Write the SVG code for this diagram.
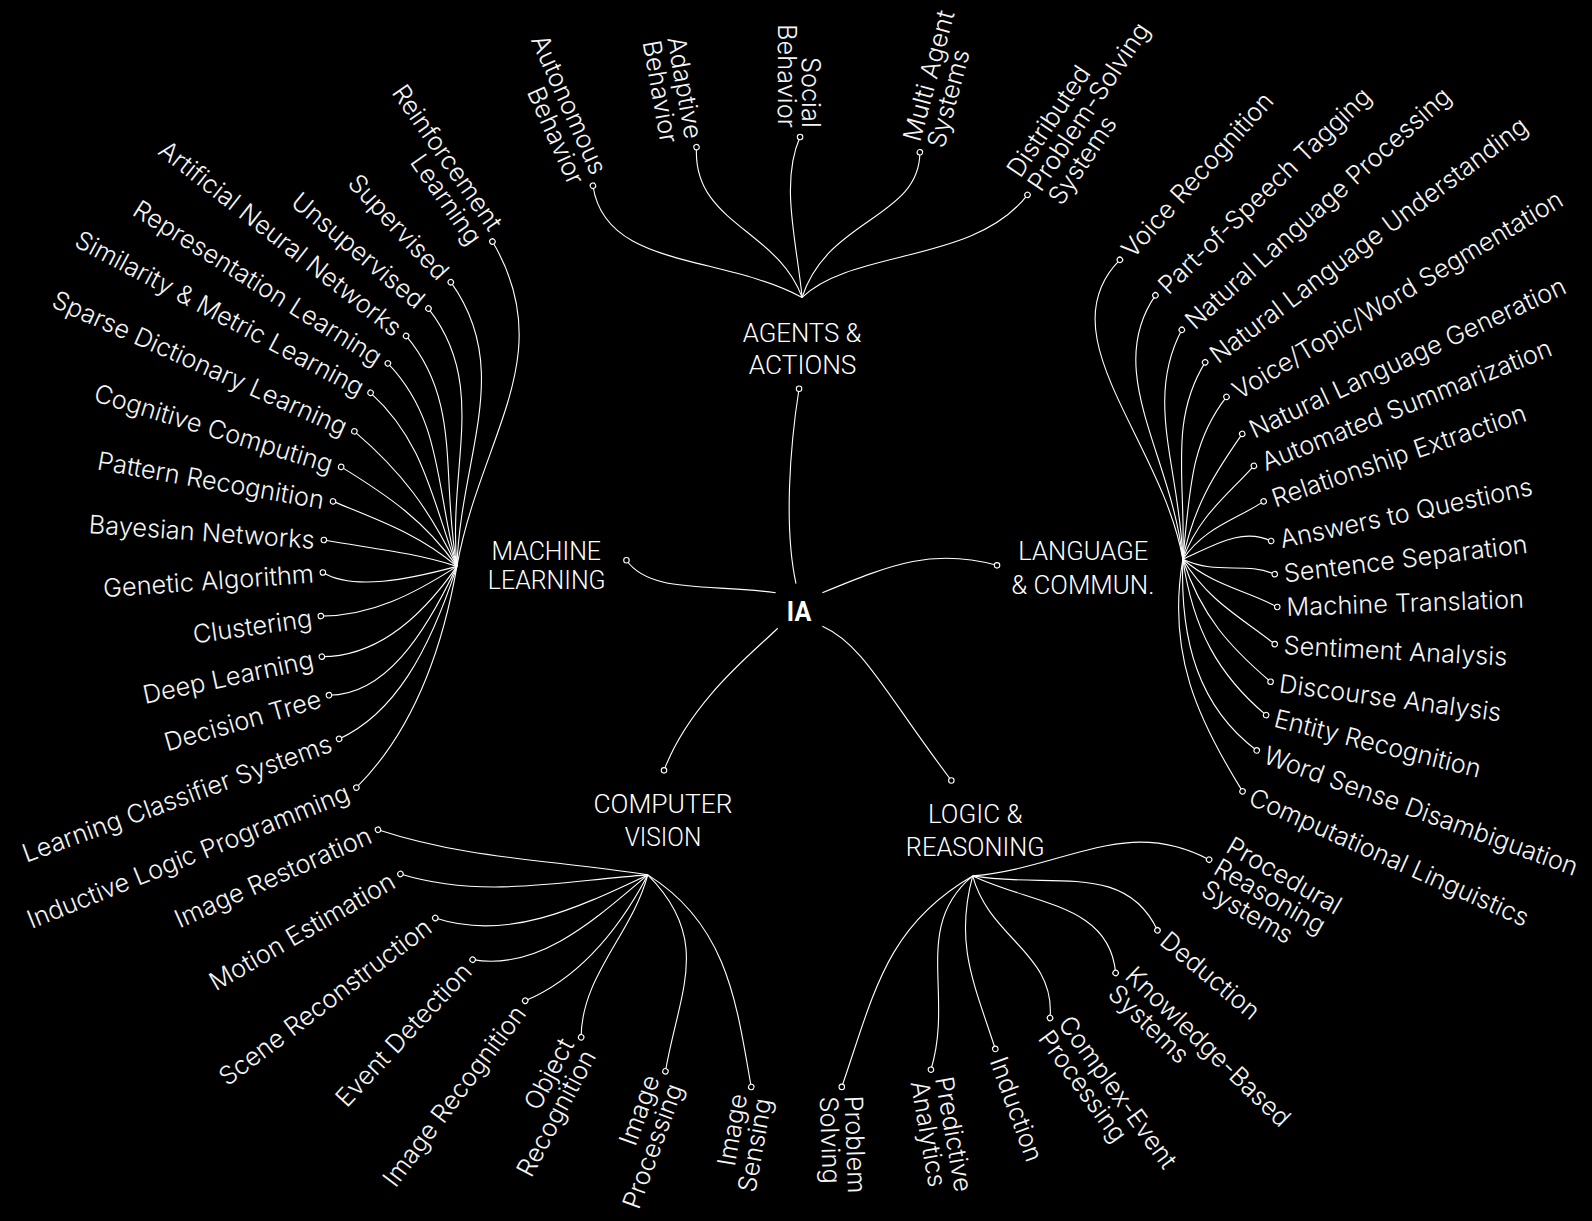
<svg xmlns="http://www.w3.org/2000/svg" width="1592" height="1221" viewBox="0 0 1592 1221">
<style>
.ln{fill:none;stroke:#fff;stroke-width:1.1}
.dot{fill:#000;stroke:#fff;stroke-width:1.1}
.lf{font-family:Inter,'Noto Sans','Liberation Sans',sans-serif;font-size:25px;font-weight:300;fill:#f4f4f4;dominant-baseline:central}
.e{text-anchor:end}
.s{text-anchor:start}
.cat{font-family:Roboto,'Liberation Sans',sans-serif;font-size:26px;font-weight:300;fill:#fff;text-anchor:middle}
.ia{font-family:Roboto,'Liberation Sans',sans-serif;font-size:27px;font-weight:700;fill:#fff;text-anchor:middle}
</style>
<rect width="1592" height="1221" fill="#000"/>
<g transform="scale(1.01531 1.01496)">
<g id="connectors">
<path class="ln" d="M784,575 C772,520 778,440 787,383"/>
<path class="ln" d="M764,584 C700,575 640,585 617,552"/>
<path class="ln" d="M810,584 C880,555 920,540 982,557"/>
<path class="ln" d="M766,619 C745,640 680,690 654,759"/>
<path class="ln" d="M810,617 C850,635 870,680 937,769"/>
<path class="ln" d="M584,183 C596,265 710,250 790,293"/>
<path class="ln" d="M686,145 C682,220 765,225 790,293"/>
<path class="ln" d="M788,135 C768,180 785,240 790,293"/>
<path class="ln" d="M906,150 C906,215 815,215 790,293"/>
<path class="ln" d="M1012,192 C960,260 840,245 790,293"/>
<path class="ln" d="M485,238 C552,351 473,430 450,558"/>
<path class="ln" d="M444,278 C506,364 454,448 450,558"/>
<path class="ln" d="M422,304 C481,379 441,458 450,558"/>
<path class="ln" d="M400,331 C455,396 434,469 450,558"/>
<path class="ln" d="M382,358 C436,414 429,481 450,558"/>
<path class="ln" d="M365,387 C417,434 425,490 450,558"/>
<path class="ln" d="M349,425 C396,465 423,502 450,558"/>
<path class="ln" d="M336,460 C383,489 418,513 450,558"/>
<path class="ln" d="M328,494 C374,513 412,526 450,558"/>
<path class="ln" d="M319,532 C363,540 407,544 450,558"/>
<path class="ln" d="M318,564 C348,582 402,571 450,558"/>
<path class="ln" d="M316,607 C366,607 408,585 450,558"/>
<path class="ln" d="M317,647 C372,647 416,607 450,558"/>
<path class="ln" d="M324,685 C379,685 418,626 450,558"/>
<path class="ln" d="M334,728 C388,703 422,644 450,558"/>
<path class="ln" d="M351,776 C400,727 433,656 450,558"/>
<path class="ln" d="M1103,256 C1029,330 1144,433 1165,551"/>
<path class="ln" d="M1138,291 C1086,366 1154,448 1165,551"/>
<path class="ln" d="M1164,325 C1127,395 1162,461 1165,551"/>
<path class="ln" d="M1187,357 C1151,415 1168,473 1165,551"/>
<path class="ln" d="M1208,391 C1172,437 1172,485 1165,551"/>
<path class="ln" d="M1223.5,427.5 C1196,467 1176,498 1165,551"/>
<path class="ln" d="M1235,459 C1208,489 1181,508 1165,551"/>
<path class="ln" d="M1244.6,494 C1216,513 1187,519 1165,551"/>
<path class="ln" d="M1252,533 C1224,520 1198,536 1165,551"/>
<path class="ln" d="M1255.5,565.7 C1226,553 1199,567 1165,551"/>
<path class="ln" d="M1258,598 C1226,581 1197,578 1165,551"/>
<path class="ln" d="M1255.5,634.6 C1222,608 1191,593 1165,551"/>
<path class="ln" d="M1251.4,671.7 C1212,638 1183,607 1165,551"/>
<path class="ln" d="M1247,704.6 C1200,665 1175,620 1165,551"/>
<path class="ln" d="M1237.8,739.4 C1181,697 1162,632 1165,551"/>
<path class="ln" d="M1223.8,779.7 C1180,709 1149,644 1165,551"/>
<path class="ln" d="M372.3,817.5 C462,847 545,847 638,862"/>
<path class="ln" d="M394.4,861.1 C476,886 553,868 638,862"/>
<path class="ln" d="M428.7,904.5 C500,928 570,894 638,862"/>
<path class="ln" d="M465.5,945.5 C531,957 587,905 638,862"/>
<path class="ln" d="M517.3,986 C572.5,962.5 610,915 638,862"/>
<path class="ln" d="M572.4,1022 C572.4,962 622.5,920 638,862"/>
<path class="ln" d="M655.4,1055.5 C669,977 702,926 638,862"/>
<path class="ln" d="M739.9,1071 C725.6,990 717,911 638,862"/>
<path class="ln" d="M1190.9,847 C1108.8,803.4 1050.6,854.9 958,863"/>
<path class="ln" d="M1140,916.6 C1107.9,847.7 1032.9,876.2 958,863"/>
<path class="ln" d="M1098.8,958.6 C1092.9,890.9 1019.6,891.8 958,863"/>
<path class="ln" d="M1034.2,1003 C1039.8,939.3 974.6,924.8 958,863"/>
<path class="ln" d="M980.3,1033.5 C959,968 940,930 958,863"/>
<path class="ln" d="M916.9,1053.9 C939.7,979.3 898,913 958,863"/>
<path class="ln" d="M829.1,1070.9 C861,978 873,912 958,863"/>
</g>

<g id="n-ia"><text class="ia" x="787" y="612" textLength="24" lengthAdjust="spacingAndGlyphs">IA</text></g>
<g id="n-agents"><circle class="dot" cx="787" cy="383" r="2.7"/><text class="cat" x="790" y="336.5" textLength="117" lengthAdjust="spacingAndGlyphs">AGENTS &amp;</text><text class="cat" x="790.5" y="368.7" textLength="106" lengthAdjust="spacingAndGlyphs">ACTIONS</text></g>
<g id="n-ml"><circle class="dot" cx="617" cy="552" r="2.7"/><text class="cat" x="538" y="552" textLength="108" lengthAdjust="spacingAndGlyphs">MACHINE</text><text class="cat" x="538.5" y="580" textLength="116" lengthAdjust="spacingAndGlyphs">LEARNING</text></g>
<g id="n-lang"><circle class="dot" cx="982" cy="557" r="2.7"/><text class="cat" x="1067" y="551.6" textLength="128" lengthAdjust="spacingAndGlyphs">LANGUAGE</text><text class="cat" x="1066.5" y="585" textLength="141" lengthAdjust="spacingAndGlyphs">&amp; COMMUN.</text></g>
<g id="n-cv"><circle class="dot" cx="654" cy="759" r="2.7"/><text class="cat" x="653" y="801" textLength="137" lengthAdjust="spacingAndGlyphs">COMPUTER</text><text class="cat" x="653" y="834" textLength="75.5" lengthAdjust="spacingAndGlyphs">VISION</text></g>
<g id="n-logic"><circle class="dot" cx="937" cy="769" r="2.7"/><text class="cat" x="960.5" y="811" textLength="93" lengthAdjust="spacingAndGlyphs">LOGIC &amp;</text><text class="cat" x="960.5" y="843" textLength="136.6" lengthAdjust="spacingAndGlyphs">REASONING</text></g>

<g id="n-autonomous" transform="translate(584 183) rotate(66)"><circle class="dot" r="2.7"/><text class="lf e"><tspan x="-9" y="-12.25">Autonomous</tspan><tspan x="-9" y="12.25">Behavior</tspan></text></g>
<g id="n-adaptive" transform="translate(686 145) rotate(80)"><circle class="dot" r="2.7"/><text class="lf e"><tspan x="-9" y="0">Adaptive</tspan><tspan x="-9" y="24.5">Behavior</tspan></text></g>
<g id="n-social" transform="translate(788 135) rotate(90)"><circle class="dot" r="2.7"/><text class="lf e"><tspan x="-9" y="-12.25">Social</tspan><tspan x="-9" y="12.25">Behavior</tspan></text></g>
<g id="n-multiagent" transform="translate(906 150) rotate(-75)"><circle class="dot" r="2.7"/><text class="lf s"><tspan x="9" y="-12.25">Multi Agent</tspan><tspan x="9" y="12.25">Systems</tspan></text></g>
<g id="n-distributed" transform="translate(1012 192) rotate(-56)"><circle class="dot" r="2.7"/><text class="lf s"><tspan x="9" y="-24.5">Distributed</tspan><tspan x="9" y="0">Problem-Solving</tspan><tspan x="9" y="24.5">Systems</tspan></text></g>

<g id="n-reinforcement" transform="translate(485 238) rotate(55)"><circle class="dot" r="2.7"/><text class="lf e"><tspan x="-9" y="-12.25">Reinforcement</tspan><tspan x="-9" y="12.25">Learning</tspan></text></g>
<g id="n-supervised" transform="translate(444 278) rotate(47)"><circle class="dot" r="2.7"/><text class="lf e" x="-9">Supervised</text></g>
<g id="n-unsupervised" transform="translate(422 304) rotate(40)"><circle class="dot" r="2.7"/><text class="lf e" x="-9">Unsupervised</text></g>
<g id="n-ann" transform="translate(400 331) rotate(38)"><circle class="dot" r="2.7"/><text class="lf e" x="-9">Artificial Neural Networks</text></g>
<g id="n-representation" transform="translate(382 358) rotate(32)"><circle class="dot" r="2.7"/><text class="lf e" x="-9">Representation Learning</text></g>
<g id="n-similarity" transform="translate(365 387) rotate(28)"><circle class="dot" r="2.7"/><text class="lf e" x="-9">Similarity &amp; Metric Learning</text></g>
<g id="n-sparse" transform="translate(349 425) rotate(24)"><circle class="dot" r="2.7"/><text class="lf e" x="-9">Sparse Dictionary Learning</text></g>
<g id="n-cognitive" transform="translate(336 460) rotate(17)"><circle class="dot" r="2.7"/><text class="lf e" x="-9">Cognitive Computing</text></g>
<g id="n-pattern" transform="translate(328 494) rotate(10)"><circle class="dot" r="2.7"/><text class="lf e" x="-9">Pattern Recognition</text></g>
<g id="n-bayesian" transform="translate(319 532) rotate(4)"><circle class="dot" r="2.7"/><text class="lf e" x="-9">Bayesian Networks</text></g>
<g id="n-genetic" transform="translate(318 564) rotate(-4)"><circle class="dot" r="2.7"/><text class="lf e" x="-9">Genetic Algorithm</text></g>
<g id="n-clustering" transform="translate(316 607) rotate(-8)"><circle class="dot" r="2.7"/><text class="lf e" x="-9">Clustering</text></g>
<g id="n-deep" transform="translate(317 647) rotate(-12)"><circle class="dot" r="2.7"/><text class="lf e" x="-9">Deep Learning</text></g>
<g id="n-decision" transform="translate(324 685) rotate(-16)"><circle class="dot" r="2.7"/><text class="lf e" x="-9">Decision Tree</text></g>
<g id="n-lcs" transform="translate(334 728) rotate(-20)"><circle class="dot" r="2.7"/><text class="lf e" x="-9">Learning Classifier Systems</text></g>
<g id="n-ilp" transform="translate(351 776) rotate(-22)"><circle class="dot" r="2.7"/><text class="lf e" x="-9">Inductive Logic Programming</text></g>

<g id="n-voicerec" transform="translate(1103 256) rotate(-48)"><circle class="dot" r="2.7"/><text class="lf s" x="9">Voice Recognition</text></g>
<g id="n-pos" transform="translate(1138 291) rotate(-44)"><circle class="dot" r="2.7"/><text class="lf s" x="9">Part-of-Speech Tagging</text></g>
<g id="n-nlp" transform="translate(1164 325) rotate(-42)"><circle class="dot" r="2.7"/><text class="lf s" x="9">Natural Language Processing</text></g>
<g id="n-nlu" transform="translate(1187 357) rotate(-37)"><circle class="dot" r="2.7"/><text class="lf s" x="9">Natural Language Understanding</text></g>
<g id="n-segmentation" transform="translate(1208 391) rotate(-31)"><circle class="dot" r="2.7"/><text class="lf s" x="9">Voice/Topic/Word Segmentation</text></g>
<g id="n-nlg" transform="translate(1223.5 427.5) rotate(-25)"><circle class="dot" r="2.7"/><text class="lf s" x="9">Natural Language Generation</text></g>
<g id="n-summarization" transform="translate(1235 459) rotate(-22)"><circle class="dot" r="2.7"/><text class="lf s" x="9">Automated Summarization</text></g>
<g id="n-relationship" transform="translate(1244.6 494) rotate(-19)"><circle class="dot" r="2.7"/><text class="lf s" x="9">Relationship Extraction</text></g>
<g id="n-answers" transform="translate(1252 533) rotate(-12)"><circle class="dot" r="2.7"/><text class="lf s" x="9">Answers to Questions</text></g>
<g id="n-sentence" transform="translate(1255.5 565.7) rotate(-7)"><circle class="dot" r="2.7"/><text class="lf s" x="9">Sentence Separation</text></g>
<g id="n-translation" transform="translate(1258 598) rotate(-2)"><circle class="dot" r="2.7"/><text class="lf s" x="9">Machine Translation</text></g>
<g id="n-sentiment" transform="translate(1255.5 634.6) rotate(3)"><circle class="dot" r="2.7"/><text class="lf s" x="9">Sentiment Analysis</text></g>
<g id="n-discourse" transform="translate(1251.4 671.7) rotate(7.5)"><circle class="dot" r="2.7"/><text class="lf s" x="9">Discourse Analysis</text></g>
<g id="n-entity" transform="translate(1247 704.6) rotate(14)"><circle class="dot" r="2.7"/><text class="lf s" x="9">Entity Recognition</text></g>
<g id="n-wsd" transform="translate(1237.8 739.4) rotate(20)"><circle class="dot" r="2.7"/><text class="lf s" x="9">Word Sense Disambiguation</text></g>
<g id="n-complinguistics" transform="translate(1223.8 779.7) rotate(24)"><circle class="dot" r="2.7"/><text class="lf s" x="9">Computational Linguistics</text></g>

<g id="n-restoration" transform="translate(372.3 817.5) rotate(-24)"><circle class="dot" r="2.7"/><text class="lf e" x="-9">Image Restoration</text></g>
<g id="n-motion" transform="translate(394.4 861.1) rotate(-30)"><circle class="dot" r="2.7"/><text class="lf e" x="-9">Motion Estimation</text></g>
<g id="n-scene" transform="translate(428.7 904.5) rotate(-37)"><circle class="dot" r="2.7"/><text class="lf e" x="-9">Scene Reconstruction</text></g>
<g id="n-event" transform="translate(465.5 945.5) rotate(-47)"><circle class="dot" r="2.7"/><text class="lf e" x="-9">Event Detection</text></g>
<g id="n-imgrec" transform="translate(517.3 986) rotate(-53)"><circle class="dot" r="2.7"/><text class="lf e" x="-9">Image Recognition</text></g>
<g id="n-object" transform="translate(572.4 1022) rotate(-62)"><circle class="dot" r="2.7"/><text class="lf e"><tspan x="-9" y="-12.25">Object</tspan><tspan x="-9" y="12.25">Recognition</tspan></text></g>
<g id="n-processing" transform="translate(655.4 1055.5) rotate(-70)"><circle class="dot" r="2.7"/><text class="lf e"><tspan x="-9" y="-12.25">Image</tspan><tspan x="-9" y="12.25">Processing</tspan></text></g>
<g id="n-sensing" transform="translate(739.9 1071) rotate(-80)"><circle class="dot" r="2.7"/><text class="lf e"><tspan x="-9" y="-12.25">Image</tspan><tspan x="-9" y="12.25">Sensing</tspan></text></g>

<g id="n-procedural" transform="translate(1190.9 847) rotate(30)"><circle class="dot" r="2.7"/><text class="lf s"><tspan x="9" y="-24.5">Procedural</tspan><tspan x="9" y="0">Reasoning</tspan><tspan x="9" y="24.5">Systems</tspan></text></g>
<g id="n-deduction" transform="translate(1140 916.6) rotate(40)"><circle class="dot" r="2.7"/><text class="lf s" x="9">Deduction</text></g>
<g id="n-knowledge" transform="translate(1098.8 958.6) rotate(44)"><circle class="dot" r="2.7"/><text class="lf s"><tspan x="9" y="-12.25">Knowledge-Based</tspan><tspan x="9" y="12.25">Systems</tspan></text></g>
<g id="n-complex" transform="translate(1034.2 1003) rotate(54)"><circle class="dot" r="2.7"/><text class="lf s"><tspan x="9" y="-12.25">Complex-Event</tspan><tspan x="9" y="12.25">Processing</tspan></text></g>
<g id="n-induction" transform="translate(980.3 1033.5) rotate(70)"><circle class="dot" r="2.7"/><text class="lf s" x="9">Induction</text></g>
<g id="n-predictive" transform="translate(916.9 1053.9) rotate(80)"><circle class="dot" r="2.7"/><text class="lf s"><tspan x="9" y="-12.25">Predictive</tspan><tspan x="9" y="12.25">Analytics</tspan></text></g>
<g id="n-problem" transform="translate(829.1 1070.9) rotate(88)"><circle class="dot" r="2.7"/><text class="lf s"><tspan x="9" y="-12.25">Problem</tspan><tspan x="9" y="12.25">Solving</tspan></text></g>
</g>
</svg>
